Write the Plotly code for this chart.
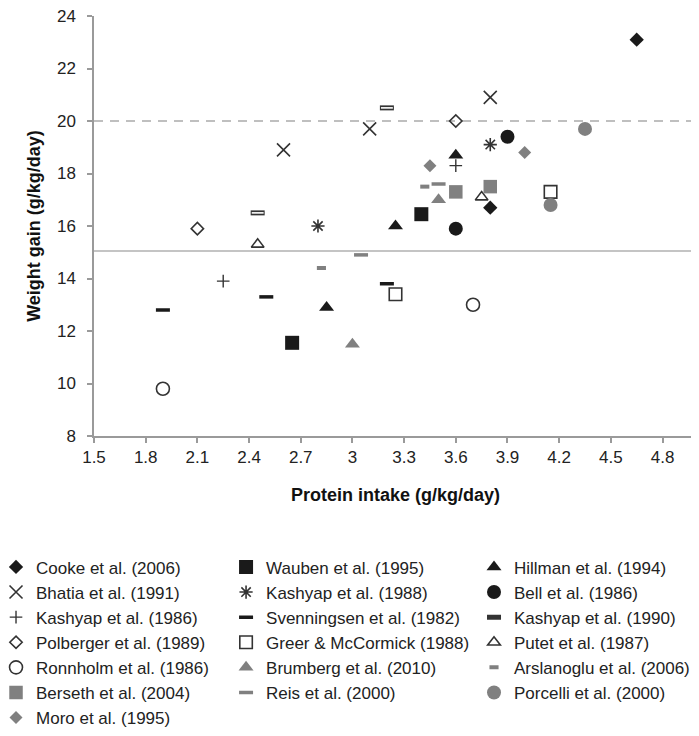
import plotly.graph_objects as go

# ---------------- data ----------------
studies = [
    "Cooke et al. (2006)", "Wauben et al. (1995)", "Hillman et al. (1994)",
    "Bhatia et al. (1991)", "Kashyap et al. (1988)", "Bell et al. (1986)",
    "Kashyap et al. (1986)", "Svenningsen et al. (1982)", "Kashyap et al. (1990)",
    "Polberger et al. (1989)", "Greer & McCormick (1988)", "Putet et al. (1987)",
    "Ronnholm et al. (1986)", "Brumberg et al. (2010)", "Arslanoglu et al. (2006)",
    "Berseth et al. (2004)", "Reis et al. (2000)", "Porcelli et al. (2000)",
    "Moro et al. (1995)",
]
protein_intake = [
    [4.65, 3.8], [3.4, 2.65], [3.6, 3.25, 2.85],
    [2.6, 3.1, 3.8], [2.8, 3.8], [3.9, 3.6],
    [2.25, 3.6], [1.9, 2.5, 3.2], [2.45, 3.2],
    [2.1, 3.6], [3.25, 4.15], [2.45, 3.75],
    [1.9, 3.7], [3.0, 3.5], [2.82, 3.42],
    [3.6, 3.8], [3.05, 3.5], [4.35, 4.15],
    [3.45, 4.0],
]
weight_gain = [
    [23.1, 16.7], [16.45, 11.55], [18.7, 16.0, 12.9],
    [18.9, 19.7, 20.9], [16.0, 19.1], [19.4, 15.9],
    [13.9, 18.3], [12.8, 13.3, 13.8], [16.5, 20.5],
    [15.9, 20.0], [13.4, 17.3], [15.3, 17.1],
    [9.8, 13.0], [11.5, 17.0], [14.4, 17.5],
    [17.3, 17.5], [14.9, 17.6], [19.7, 16.8],
    [18.3, 18.8],
]
upper_reference_gain = 20.0
lower_reference_gain = 15.05

x_tick_values = [1.5, 1.8, 2.1, 2.4, 2.7, 3.0, 3.3, 3.6, 3.9, 4.2, 4.5, 4.8]
x_tick_labels = ["1.5", "1.8", "2.1", "2.4", "2.7", "3", "3.3", "3.6", "3.9", "4.2", "4.5", "4.8"]
y_tick_values = [8, 10, 12, 14, 16, 18, 20, 22, 24]

# ---------------- styles ----------------
BLACK = "#1a1a1a"
GRAY = "#808080"
DARK = "#333333"

def filled(symbol, color, size):
    return dict(symbol=symbol, color=color, size=size, line=dict(width=0))

def hollow(symbol, size, width=1.4, color=DARK):
    return dict(symbol=symbol, size=size, color=color, line=dict(width=width, color=color))

styles = [
    filled("diamond", BLACK, 11),
    filled("square", BLACK, 14),
    filled("triangle-up", BLACK, 13),
    hollow("x-thin-open", 13, 1.6),
    hollow("asterisk-open", 11, 1.6),
    filled("circle", BLACK, 14),
    hollow("cross-thin-open", 9, 1.4),
    hollow("line-ew-open", 10, 3.5, BLACK),
    hollow("line-ew-open", 10, 5, DARK),
    hollow("diamond-open", 9.5, 1.6),
    hollow("square-open", 12.5, 1.6),
    hollow("triangle-up-open", 11, 1.6),
    hollow("circle-open", 13, 1.6),
    filled("triangle-up", GRAY, 13),
    hollow("line-ew-open", 6.5, 4, GRAY),
    filled("square", GRAY, 13.5),
    hollow("line-ew-open", 10, 3.5, GRAY),
    filled("circle", GRAY, 14),
    filled("diamond", GRAY, 10),
]

legend_ids = ["legend", "legend2", "legend3"]

fig = go.Figure()

# reference lines
fig.add_hline(y=upper_reference_gain, line=dict(color="#ababab", width=1.5, dash="9px,7px"), layer="below")
fig.add_hline(y=lower_reference_gain, line=dict(color="#b0b0b0", width=1.5), layer="below")

for i, (name, xs, ys, mk) in enumerate(zip(studies, protein_intake, weight_gain, styles)):
    lg = legend_ids[i % 3]
    fig.add_trace(go.Scatter(x=xs, y=ys, mode="markers", name=name, marker=mk, legend=lg))
    if name == "Kashyap et al. (1990)":
        # white core of the outlined bar marker
        fig.add_trace(go.Scatter(x=xs, y=ys, mode="markers", showlegend=False, hoverinfo="skip",
                                 legend=lg,
                                 marker=dict(symbol="line-ew-open", size=8.5, color="white",
                                             line=dict(width=1.6, color="white"))))

FONT = "Liberation Sans, Arial, sans-serif"
LEG_FONT = dict(family=FONT, size=17, color="#222222")

def legend_at(xpos):
    return dict(orientation="v", x=xpos, xanchor="left", y=-0.27, yanchor="top",
                font=LEG_FONT, bgcolor="rgba(0,0,0,0)", borderwidth=0,
                itemclick=False, itemdoubleclick=False)

fig.update_layout(
    width=699, height=736,
    margin=dict(l=86, r=10, t=8, b=308, autoexpand=False),
    paper_bgcolor="white", plot_bgcolor="white",
    font=dict(family=FONT, size=17, color="#222222"),
    showlegend=True,
    legend=legend_at(-0.1625),
    legend2=legend_at(0.2190),
    legend3=legend_at(0.6302),
)

fig.update_xaxes(
    range=[1.5, 5.0], tickmode="array", tickvals=x_tick_values, ticktext=x_tick_labels,
    showgrid=False, zeroline=False, showline=True, linecolor="#9a9a9a", linewidth=1.5,
    ticks="outside", ticklen=5, tickwidth=1.5, tickcolor="#9a9a9a",
    ticklabelstandoff=0, ticklabeloverflow="allow",
    tickfont=dict(family=FONT, size=17, color="#222222"),
    title=dict(text="<b>Protein intake (g/kg/day)</b>", standoff=22,
               font=dict(family=FONT, size=18, color="#111111")),
    automargin=False,
)
fig.update_yaxes(
    range=[8, 24], tickmode="array", tickvals=y_tick_values,
    showgrid=False, zeroline=False, showline=True, linecolor="#9a9a9a", linewidth=1.5,
    ticks="outside", ticklen=5, tickwidth=1.5, tickcolor="#9a9a9a",
    ticklabelstandoff=8, ticklabeloverflow="allow",
    tickfont=dict(family=FONT, size=17, color="#222222"),
    title=dict(text="<b>Weight gain (g/kg/day)</b>", standoff=12,
               font=dict(family=FONT, size=18, color="#111111")),
    automargin=False,
)

fig.write_html("out.html")
